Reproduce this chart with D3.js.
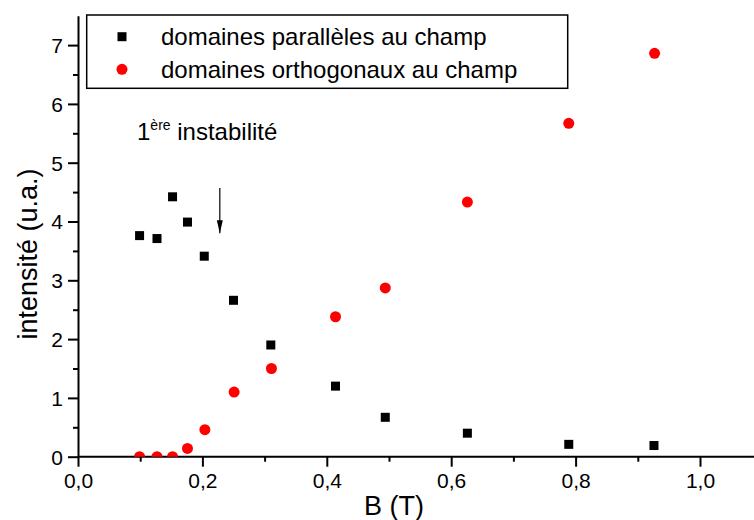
<!DOCTYPE html>
<html>
<head>
<meta charset="utf-8">
<script src="https://cdn.jsdelivr.net/npm/d3@7"></script>
<style>
  body { margin: 0; background: #fff; }
  text { font-family: "Liberation Sans", Arial, sans-serif; fill: #000; }
</style>
</head>
<body>
<div id="chart"></div>
<script>
// champ magnétique B (T)
const bParallel = [0.099, 0.127, 0.152, 0.176, 0.203, 0.250, 0.310, 0.414, 0.494, 0.626, 0.789, 0.926];
const iParallel = [3.76, 3.71, 4.42, 3.99, 3.41, 2.66, 1.90, 1.20, 0.67, 0.40, 0.21, 0.19];

const bOrtho = [0.099, 0.127, 0.152, 0.176, 0.204, 0.251, 0.311, 0.414, 0.494, 0.626, 0.789, 0.927];
const iOrtho = [0.00, 0.00, 0.00, 0.14, 0.46, 1.10, 1.50, 2.38, 2.87, 4.33, 5.67, 6.86];

const xTicks = [0, 0.2, 0.4, 0.6, 0.8, 1.0];
const xMinor = [0.1, 0.3, 0.5, 0.7, 0.9];
const yTicks = [0, 1, 2, 3, 4, 5, 6, 7];
const yMinor = [0.5, 1.5, 2.5, 3.5, 4.5, 5.5, 6.5];

const legendLabels = ['domaines parallèles au champ', 'domaines orthogonaux au champ'];
const arrowB = 0.228, arrowTop = 4.57, arrowBottom = 3.80;

const width = 754, height = 520;
const margin = { top: 15.7, left: 78, bottom: 63.3 };

const svg = d3.select('#chart').append('svg')
  .attr('width', width)
  .attr('height', height);

const x = d3.scaleLinear()
  .domain([0, 1])
  .range([margin.left, 700]);

const y = d3.scaleLinear()
  .domain([0, 7.5])
  .range([height - margin.bottom, margin.top]);

const fmt = d => d3.format('.1f')(d).replace('.', ',');

// clip so the points at 0 are cut by the axis
svg.append('clipPath').attr('id', 'plot-clip')
  .append('rect')
  .attr('x', margin.left)
  .attr('y', 0)
  .attr('width', width - margin.left)
  .attr('height', y(0));

// x axis
const xAxis = svg.append('g')
  .attr('transform', `translate(0,${y(0)})`)
  .call(d3.axisBottom(x).tickValues(xTicks).tickFormat(fmt).tickSize(10).tickSizeOuter(0));
xAxis.select('.domain').attr('d', `M${margin.left},0H${width}`);

svg.append('g')
  .attr('transform', `translate(0,${y(0)})`)
  .call(d3.axisBottom(x).tickValues(xMinor).tickFormat('').tickSize(5).tickSizeOuter(0))
  .select('.domain').remove();

// y axis
const yAxis = svg.append('g')
  .attr('transform', `translate(${margin.left},0)`)
  .call(d3.axisLeft(y).tickValues(yTicks).tickSize(10).tickSizeOuter(0));

svg.append('g')
  .attr('transform', `translate(${margin.left},0)`)
  .call(d3.axisLeft(y).tickValues(yMinor).tickFormat('').tickSize(5).tickSizeOuter(0))
  .select('.domain').remove();

svg.selectAll('.domain, .tick line')
  .attr('stroke', '#000')
  .attr('stroke-width', 2);

xAxis.selectAll('.tick text')
  .attr('font-size', 21)
  .attr('font-family', '"Liberation Sans", Arial, sans-serif')
  .attr('dy', 0)
  .attr('y', 31);

yAxis.selectAll('.tick text')
  .attr('font-size', 21)
  .attr('font-family', '"Liberation Sans", Arial, sans-serif')
  .attr('x', -15)
  .attr('dy', '0.35em');

// axis titles
svg.append('text')
  .attr('x', 394)
  .attr('y', 515)
  .attr('text-anchor', 'middle')
  .attr('font-size', 27)
  .text('B (T)');

svg.append('text')
  .attr('transform', 'translate(37,254) rotate(-90)')
  .attr('text-anchor', 'middle')
  .attr('font-size', 27)
  .text('intensité (u.a.)');

// points
const plot = svg.append('g').attr('clip-path', 'url(#plot-clip)');

plot.selectAll('.sq')
  .data(d3.zip(bParallel, iParallel))
  .enter().append('rect')
  .attr('class', 'sq')
  .attr('x', d => x(d[0]) - 4.5)
  .attr('y', d => y(d[1]) - 4.5)
  .attr('width', 9)
  .attr('height', 9)
  .attr('fill', '#000');

plot.selectAll('.dot')
  .data(d3.zip(bOrtho, iOrtho))
  .enter().append('circle')
  .attr('class', 'dot')
  .attr('cx', d => x(d[0]))
  .attr('cy', d => y(d[1]))
  .attr('r', 5.5)
  .attr('fill', '#f00');

// annotation
svg.append('defs').append('marker')
  .attr('id', 'head')
  .attr('viewBox', '0 0 6 12')
  .attr('refX', 3)
  .attr('refY', 12)
  .attr('markerWidth', 6)
  .attr('markerHeight', 12)
  .attr('markerUnits', 'userSpaceOnUse')
  .attr('orient', 'auto-start-reverse')
  .append('path')
  .attr('d', 'M0,0L3,12L6,0L3,2Z')
  .attr('fill', '#000');

svg.append('line')
  .attr('x1', x(arrowB))
  .attr('x2', x(arrowB))
  .attr('y1', y(arrowTop))
  .attr('y2', y(arrowBottom))
  .attr('stroke', '#000')
  .attr('stroke-width', 1.2);

svg.append('path')
  .attr('d', `M${x(arrowB) - 3},${y(arrowBottom) - 13}L${x(arrowB)},${y(arrowBottom)}L${x(arrowB) + 3},${y(arrowBottom) - 13}Z`)
  .attr('fill', '#000');

const note = svg.append('text')
  .attr('x', 137)
  .attr('y', 140)
  .attr('font-size', 24);
note.append('tspan').text('1');
note.append('tspan').attr('font-size', 14).attr('dy', -10).text('ère');
note.append('tspan').attr('dy', 10).text(' instabilité');

// legend
const legend = svg.append('g');
legend.append('rect')
  .attr('x', 86.7)
  .attr('y', 15)
  .attr('width', 481)
  .attr('height', 73.3)
  .attr('fill', '#fff')
  .attr('stroke', '#000')
  .attr('stroke-width', 1.5);

legend.append('rect')
  .attr('x', 122 - 4.5)
  .attr('y', 36.7 - 4.5)
  .attr('width', 9)
  .attr('height', 9)
  .attr('fill', '#000');

legend.append('circle')
  .attr('cx', 122)
  .attr('cy', 69.3)
  .attr('r', 5.5)
  .attr('fill', '#f00');

legend.selectAll('.lbl')
  .data(legendLabels)
  .enter().append('text')
  .attr('class', 'lbl')
  .attr('x', 161)
  .attr('y', (d, i) => 36.7 + i * 32.6)
  .attr('dy', '0.36em')
  .attr('font-size', 24)
  .text(d => d);
</script>
</body>
</html>
